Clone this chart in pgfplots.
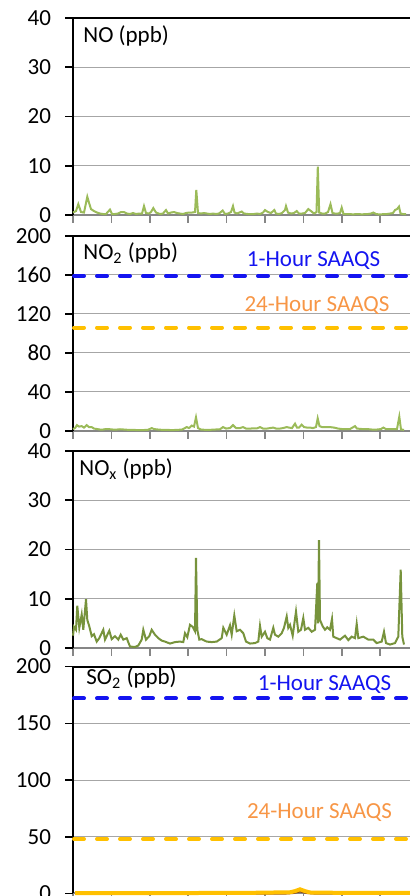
\documentclass[border=0pt]{standalone}
\usepackage{pgfplots}
\pgfplotsset{compat=1.18}
\usepackage{fontspec}
\setmainfont{Carlito}
\definecolor{grn}{RGB}{155,187,89}
\definecolor{dgrn}{RGB}{119,147,60}
\definecolor{hblue}{RGB}{20,20,240}
\definecolor{hyel}{RGB}{255,192,0}
\definecolor{horange}{RGB}{247,150,70}
\definecolor{brn}{RGB}{132,60,12}
\definecolor{gridc}{RGB}{166,166,166}
\definecolor{xax}{RGB}{134,134,134}
\pgfplotsset{
 panel/.style={
   scale only axis, width=168.5pt, anchor=south west,
   xmin=73, xmax=410,
   xtick={73,111.4,149.8,188.2,226.6,265,303.4,341.8,380.2},
   xticklabels={},
   axis x line*=bottom, axis y line*=left,
   x axis line style={xax, line width=1pt},
   y axis line style={black, line width=1pt},
   tick align=outside,
   major tick length=4pt,
   xtick style={xax, line width=0.8pt},
   ytick style={black, line width=0.8pt},
   ymajorgrids, major grid style={gridc, line width=0.5pt},
   font=\fontsize{11.5}{13}\selectfont,
   /pgf/number format/assume math mode=true,
   yticklabel style={xshift=-3.5pt},
   clip=false,
 },
 hour/.style={hblue, line width=2pt, dash pattern=on 5pt off 6.5pt, line cap=round},
 day/.style={hyel, line width=2pt, dash pattern=on 5pt off 6.5pt, line cap=round},
}
\begin{document}
\begin{tikzpicture}
\useasboundingbox (0,0) rectangle (205pt,448pt);
\clip (0,0) rectangle (205pt,448pt);
% ---------- NO ----------
\begin{axis}[panel, at={(36.5pt,340.5pt)}, height=98.5pt, ymin=0, ymax=40, ytick={0,10,20,30,40}]
\addplot[grn, line width=1pt] coordinates {
(73,0.5) (76,0.8) (78.3,2.2) (81,0.6) (84,0.5) (87.3,3.7) (89,2.5) (91,1.2) (94,0.8) (97,0.5) (100,0.3) (103,0.2) (106,0.2) (110,1.1) (112,0.2) (115,0.2) (118,0.3) (121,0.6) (124,0.6) (127,0.3) (130,0.2) (133,0.4) (136,0.2) (139,0.3) (142,0.3) (144,1.8) (146,0.4) (149,0.3) (151,0.6) (153.3,1.4) (156,0.5) (160,0.2) (163,0.3) (166,1.0) (168,0.3) (171,0.5) (174,0.6) (177,0.4) (180,0.3) (183,0.2) (186,0.4) (189,0.5) (192,0.5) (195,0.6) (196.3,5.1) (198,0.4) (201,0.3) (204,0.4) (207,0.3) (210,0.2) (213,0.3) (216,0.2) (219,0.3) (222.7,0.9) (225,0.2) (228,0.3) (231,0.6) (233,1.8) (234.5,0.5) (237,0.3) (241.7,0.7) (244,0.3) (248,0.2) (251,0.2) (254,0.2) (257,0.3) (260,0.2) (263,0.5) (265,1.0) (268,0.6) (271,0.4) (274.3,1.0) (276,0.3) (279,0.2) (282,0.4) (285,1.0) (286,1.8) (288,0.5) (291,0.3) (294,0.4) (296.7,0.8) (299,0.3) (302,0.3) (305,0.4) (308.3,1.2) (311,0.8) (314,0.3) (316.5,0.6) (317.8,9.8) (319.2,0.5) (322,0.3) (325,0.3) (328,0.6) (330.5,2.2) (332.5,0.4) (335,0.3) (338,0.3) (340,0.4) (341.7,1.5) (343.5,0.2) (347,0.2) (350,0.2) (353,0.1) (356,0.2) (359,0.2) (362,0.1) (365,0.2) (368,0.2) (371,0.3) (373.3,0.5) (376,0.2) (380,0.1) (384,0.2) (387,0.2) (390,0.3) (393,0.4) (395,1.0) (397,1.2) (399,1.7) (400.5,0.3) (403,0.2) (406,0.2)
};
\draw[black, line width=1pt] (rel axis cs:0,1) -- (rel axis cs:1,1);
\node[anchor=west, inner sep=0pt, font=\fontsize{11.5}{13}\selectfont] at (axis cs:83,36.3) {NO (ppb)};
\end{axis}
% ---------- NO2 ----------
\begin{axis}[panel, at={(36.5pt,232.5pt)}, height=97.5pt, ymin=0, ymax=200, ytick={0,40,80,120,160,200}]
\addplot[grn, line width=1pt] coordinates {
(73,2) (75,3) (77,6) (79,4.5) (81.7,5) (84,3.5) (86.7,6) (89,4) (91.7,4) (94,2.5) (97,2) (100,1.5) (103,1.5) (106,2) (110,1.8) (113,1.5) (117,1.5) (120,1.8) (124,1.5) (128,1.2) (132,1.2) (136,1) (140,1) (144,1) (148,1.2) (151.7,3) (154,2) (158,1.5) (162,1.2) (166,1.2) (170,1) (174,1) (178,1.2) (182,1.5) (184,2.5) (186.7,4) (189,3) (191.7,5.5) (194,4.5) (196,14) (198,3) (201,1.5) (205,1.2) (210,1.2) (215,1.5) (220,1.8) (223,4) (226,2.5) (230,3) (233,6) (236,3) (240,3) (243,4) (246,2.5) (250,2.5) (254,2.7) (257,2.7) (260,4) (263,2.5) (267,2.5) (270,3) (273.3,3.5) (276,2.5) (280,2.5) (283,3) (286.7,4) (289,3.5) (292,3) (295,7.5) (297,3.5) (299,3.5) (301.7,6.5) (304,4) (307,3.5) (310,3.5) (313,3) (316,4) (317.7,13) (319.5,5) (322,4) (326,4) (330,4) (334,3.5) (338,2.5) (342,2) (346,2) (350,2) (355,5) (357,2.5) (362,2) (367,2) (372,1.5) (377,1.5) (381,2) (383.3,3.5) (386,2) (390,2) (394,1.8) (397,2) (399.3,14.7) (401,1.5) (404,1.2)
};
\addplot[hour] coordinates {(74,159) (410,159)};
\addplot[day] coordinates {(74,106) (410,106)};
\draw[black, line width=1pt] (rel axis cs:0,1) -- (rel axis cs:1,1);
\node[anchor=west, inner sep=0pt, font=\fontsize{11.5}{13}\selectfont] at (axis cs:83,182.6) {NO\textsubscript{2} (ppb)};
\node[inner sep=0pt, text=hblue, font=\fontsize{11.5}{13}\selectfont] at (axis cs:313.5,174.4) {1-Hour SAAQS};
\node[inner sep=0pt, text=horange, font=\fontsize{11.5}{13}\selectfont] at (axis cs:317,128.2) {24-Hour SAAQS};
\end{axis}
% ---------- NOx ----------
\begin{axis}[panel, at={(36.5pt,124pt)}, height=98.5pt, ymin=0, ymax=40, ytick={0,10,20,30,40}]
\addplot[dgrn, line width=1pt] coordinates {
(73,2.5) (74,4.3) (76,3.7) (77.3,8.6) (79.3,4.1) (81.7,6.8) (83.3,3.7) (86,9.9) (87.3,5.7) (89.3,4.4) (91.7,2.4) (94,2.8) (96.7,1.3) (99.3,2.0) (103.3,3.7) (105,1.7) (109.3,3.5) (111.7,1.8) (115,2.4) (118.3,1.7) (120.7,2.7) (123.3,1.7) (126.7,2.0) (130,0.3) (135,0.2) (138.3,0.5) (141.7,1.7) (143.3,3.7) (146,1.7) (149.3,2.4) (151.7,3.7) (155,2.7) (158.3,2.0) (161.7,1.5) (165,1.3) (170,0.9) (175,1.2) (180,1.3) (183.3,1.2) (185,3.0) (187.3,2.2) (190,4.7) (192.7,4.3) (195,3.4) (196,18.3) (197.3,3.7) (199.3,1.7) (201.7,1.8) (206.7,1.3) (211.7,1.2) (216.7,1.3) (221.7,2.0) (223.3,4.1) (226.7,2.7) (230,4.6) (231.7,2.7) (234.3,6.6) (236.7,3.4) (240,3.7) (243.3,3.0) (246,1.3) (250,0.9) (255,1.0) (258.3,1.3) (260,4.5) (261.7,2.3) (265,3.3) (267.3,2.0) (270,1.7) (273.3,4.1) (275,2.7) (278.3,2.3) (281.7,3.0) (284,4.1) (286.7,6.4) (288.3,4.1) (290,4.7) (292.7,2.5) (296,7.4) (298.3,3.3) (301,3.7) (303.3,6.1) (305,3.7) (308.3,4.1) (311.7,3.3) (315,3.7) (317.3,13.2) (318,5) (319,21.9) (320,5.7) (322.7,4.4) (325,3.7) (327.3,4.2) (330,3.7) (332,5.9) (333.3,2.3) (336.7,2.0) (340,1.7) (345,2.5) (348.3,1.6) (351.7,2.3) (355,2.0) (356.7,4.9) (358.3,2.0) (363.3,2.3) (368.3,1.7) (373.3,1.7) (376.7,1.0) (381.7,1.3) (384,3.3) (386,1.0) (390,0.7) (395,1.0) (398.3,2.3) (400.7,15.9) (402.3,2.3) (404,0.7)
};
\draw[black, line width=1pt] (rel axis cs:0,1) -- (rel axis cs:1,1);
\node[anchor=west, inner sep=0pt, font=\fontsize{11.5}{13}\selectfont] at (axis cs:79,36.3) {NO\textsubscript{x} (ppb)};
\end{axis}
% ---------- SO2 ----------
\begin{axis}[panel, at={(36.5pt,1.3pt)}, height=113.4pt, ymin=0, ymax=200, ytick={0,50,100,150,200}]
\addplot[brn, line width=1.2pt] coordinates {(75,0) (285,0) (293,0.5) (300,2) (307,0.5) (315,0) (410,0)};
\addplot[hyel, line width=2pt] coordinates {(75,0.3) (180,0.3) (250,0.5) (290,1) (295,2) (300,3.6) (305,2) (310,0.8) (340,0.5) (410,0.5)};
\addplot[hour] coordinates {(74,172) (410,172)};
\addplot[day] coordinates {(74,48) (410,48)};
\draw[black, line width=1pt] (rel axis cs:0,1) -- (rel axis cs:1,1);
\node[anchor=west, inner sep=0pt, font=\fontsize{11.5}{13}\selectfont] at (axis cs:86,190) {SO\textsubscript{2} (ppb)};
\node[inner sep=0pt, text=hblue, font=\fontsize{11.5}{13}\selectfont] at (axis cs:324.5,183.8) {1-Hour SAAQS};
\node[inner sep=0pt, text=horange, font=\fontsize{11.5}{13}\selectfont] at (axis cs:319.5,70.9) {24-Hour SAAQS};
\end{axis}
\end{tikzpicture}
\end{document}
